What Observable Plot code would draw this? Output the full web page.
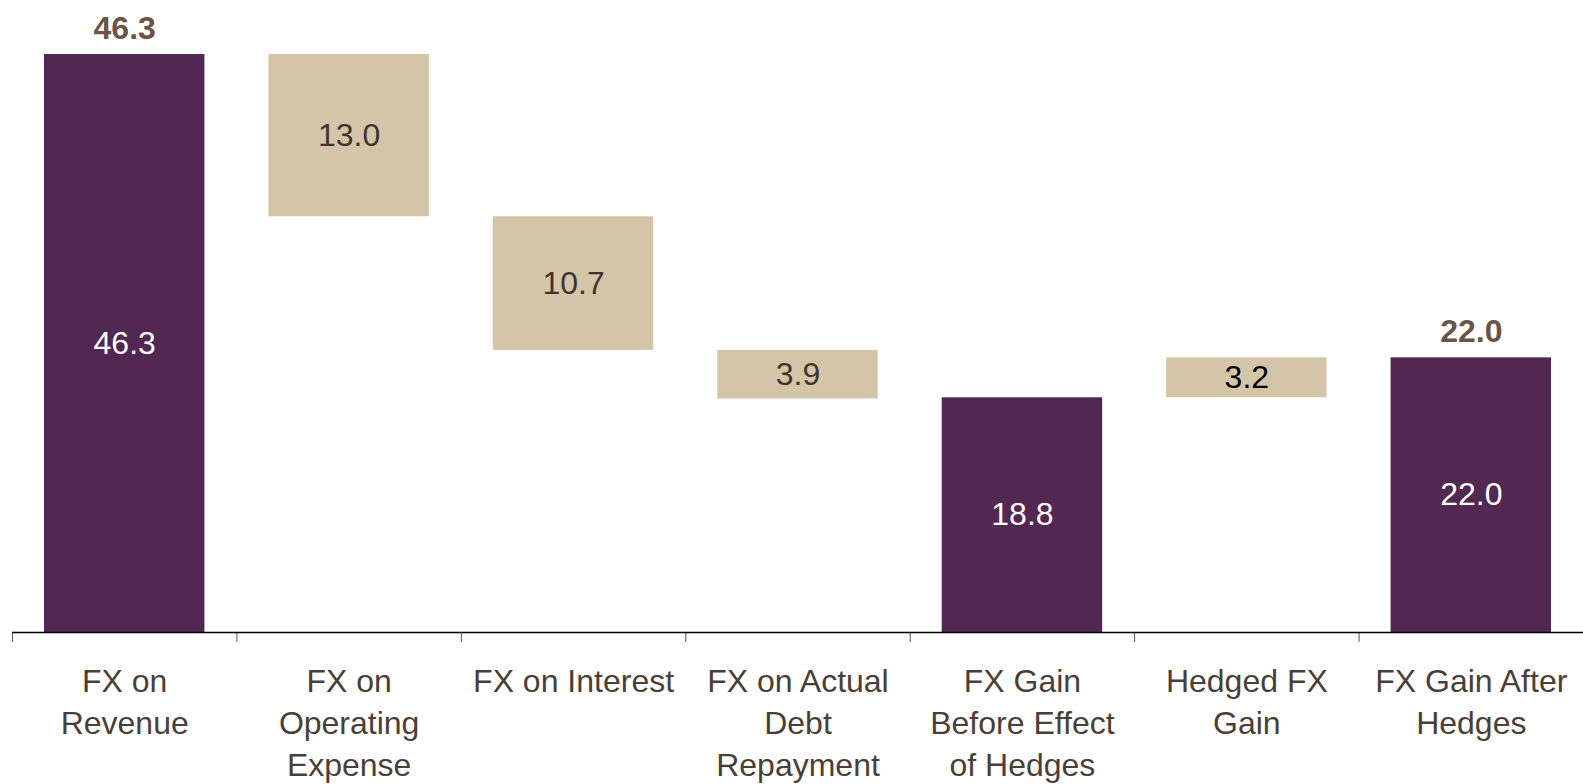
<!DOCTYPE html>
<html>
<head>
<meta charset="utf-8">
<script src="https://cdn.jsdelivr.net/npm/d3@7"></script>
<script src="https://cdn.jsdelivr.net/npm/@observablehq/plot@0.6"></script>
<style>
  html, body { margin: 0; padding: 0; background: #fff; }
  #chart svg { display: block; }
</style>
</head>
<body>
<div id="chart"></div>
<script>
const categories = [
  "FX on\nRevenue",
  "FX on\nOperating\nExpense",
  "FX on Interest",
  "FX on Actual\nDebt\nRepayment",
  "FX Gain\nBefore Effect\nof Hedges",
  "Hedged FX\nGain",
  "FX Gain After\nHedges"
];
const values = [46.3, -13.0, -10.7, -3.9, 18.8, 3.2, 22.0];
const kinds = ["total", "delta", "delta", "delta", "total", "delta", "total"];
const boundaries = d3.range(categories.length + 1);

let running = 0;
const data = categories.map((c, i) => {
  let start, end;
  if (kinds[i] === "total") { start = 0; end = values[i]; running = values[i]; }
  else { start = running; end = running + values[i]; running = end; }
  return { i, category: c, value: values[i], kind: kinds[i], start, end,
           mid: (start + end) / 2, label: Math.abs(values[i]).toFixed(1) };
});

const PURPLE = "#522853";
const TAN = "#d4c5a9";
const FONT = "'Liberation Sans', Arial, Helvetica, sans-serif";

const chart = Plot.plot({
  width: 1583,
  height: 784,
  marginTop: 54,
  marginBottom: 152,
  marginLeft: 12,
  marginRight: 0,
  style: { fontFamily: FONT, background: "#fff" },
  x: { type: "linear", domain: [0, categories.length], axis: null },
  y: { domain: [0, 46.3], axis: null },
  marks: [
    Plot.rectY(data, {
      x1: "i", x2: d => d.i + 1, y1: "start", y2: "end",
      fill: d => d.kind === "total" ? PURPLE : TAN,
      insetLeft: 32, insetRight: 32
    }),
    Plot.ruleX(boundaries, {
      x: d => d, y1: 0, y2: 0, insetBottom: -10, stroke: "#555", strokeWidth: 1
    }),
    Plot.ruleY([0], { stroke: "#000", strokeWidth: 1.5 }),
    Plot.text(data, {
      x: d => d.i + 0.5, y: "mid", text: "label",
      fill: d => d.kind === "total" ? "#ffffff" : (d.value > 0 ? "#000000" : "#3f3530"),
      fontSize: 32
    }),
    Plot.text(data.filter(d => d.kind === "total" && d.i !== 4), {
      x: d => d.i + 0.5, y: "end", text: "label",
      fill: "#6b5446", fontSize: 32, fontWeight: "bold", dy: -26
    }),
    Plot.text(data, {
      x: d => d.i + 0.5, frameAnchor: "bottom", text: "category",
      lineAnchor: "top", dy: 30, fontSize: 32, lineHeight: 1.31,
      fill: "#4a3f38"
    })
  ]
});
document.getElementById("chart").appendChild(chart);
</script>
</body>
</html>
